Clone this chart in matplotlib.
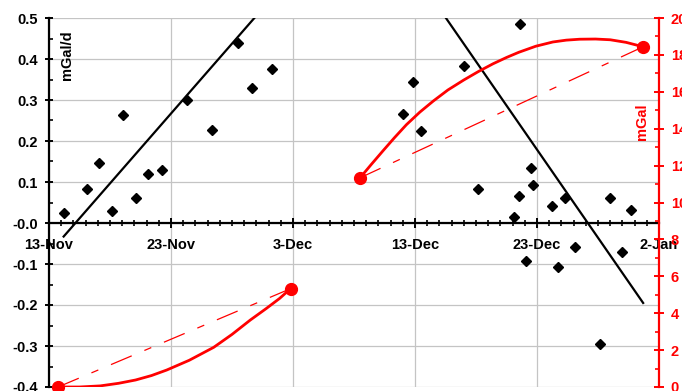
import numpy as np
import pandas as pd
import matplotlib
matplotlib.use('Agg')
import matplotlib.pyplot as plt
import matplotlib.dates as mdates
from matplotlib.ticker import MultipleLocator

plt.rcParams['font.family'] = ['Liberation Sans', 'DejaVu Sans']
plt.rcParams['font.weight'] = 'bold'
plt.rcParams['font.size'] = 10.5

start = pd.Timestamp('2008-11-13')

# daily drift readings (days after 13-Nov, mGal/d)
rate_days = [1.2, 3.1, 4.1, 5.2, 6.1, 7.1, 8.1, 9.3, 11.3, 13.4, 15.5, 16.6, 18.3,
             29.0, 29.8, 30.5, 34.0, 35.2, 38.1, 38.5, 38.6, 39.1, 39.5, 39.7,
             41.2, 41.7, 42.3, 43.1, 45.2, 46.0, 47.0, 47.7]
rate_vals = [0.024, 0.084, 0.146, 0.029, 0.263, 0.062, 0.120, 0.130, 0.300, 0.228, 0.440, 0.330, 0.376,
             0.267, 0.344, 0.224, 0.384, 0.084, 0.015, 0.067, 0.486, -0.093, 0.134, 0.092,
             0.042, -0.107, 0.062, -0.059, -0.294, 0.062, -0.070, 0.031]

# trend lines through the readings
trend1_days = [1.2, 18.3]
trend1_vals = [-0.033, 0.55]
trend2_days = [29.0, 48.7]
trend2_vals = [0.652, -0.195]

# accumulated drift (mGal)
drift1_days = [0.74, 2.5, 4.2, 5.7, 7.1, 8.4, 9.65, 11.5, 13.5, 15.0, 16.5, 17.8, 18.9, 19.8]
drift1_vals = [0.0, 0.0, 0.06, 0.2, 0.38, 0.62, 0.92, 1.45, 2.15, 2.85, 3.63, 4.25, 4.8, 5.33]
drift2_days = [25.5, 26.4, 27.4, 28.3, 29.3, 30.4, 31.5, 32.7, 34.0, 35.2, 36.4, 37.5,
               38.5, 39.9, 41.3, 42.4, 43.5, 44.8, 46.0, 47.3, 48.7]
drift2_vals = [11.34, 12.05, 12.82, 13.5, 14.22, 14.9, 15.5, 16.1, 16.64, 17.1, 17.52, 17.86,
               18.14, 18.47, 18.7, 18.8, 18.85, 18.86, 18.82, 18.68, 18.44]

tick_days = [0, 10, 20, 30, 40, 50]
tick_labels = ['13-Nov', '23-Nov', '3-Dec', '13-Dec', '23-Dec', '2-Jan']


def to_dates(days):
    return start + pd.to_timedelta(days, unit='D')


fig = plt.figure(figsize=(6.82, 3.91), dpi=100)
ax = fig.add_axes([49 / 682, 4 / 391, 610 / 682, 369 / 391])
ax2 = ax.twinx()

# left axis: rate
ax.plot(to_dates(rate_days), rate_vals, 'D', color='black', ms=5.5, zorder=3)
ax.plot(to_dates(trend1_days), trend1_vals, '-', color='black', lw=1.6)
ax.plot(to_dates(trend2_days), trend2_vals, '-', color='black', lw=1.6)

ax.set_xlim(to_dates([0])[0], to_dates([50])[0])
ax.set_ylim(-0.4, 0.5)
ax.set_yticks(np.arange(-0.4, 0.51, 0.1))
ax.yaxis.set_major_formatter(plt.FormatStrFormatter('%.1f'))
ax.yaxis.set_minor_locator(MultipleLocator(0.05))
ax.set_xticks(to_dates(tick_days))
ax.set_xticklabels(tick_labels)
ax.xaxis.set_minor_locator(mdates.DayLocator())

ax.grid(True, which='major', color='#c4c4c4', lw=0.9)
for s in ['top', 'right']:
    ax.spines[s].set_visible(False)
ax.spines['bottom'].set_position(('data', 0))
ax.spines['bottom'].set_linewidth(1.6)
ax.spines['left'].set_linewidth(1.6)
ax.tick_params(axis='x', which='major', direction='inout', length=7, width=1.4, pad=7)
ax.tick_params(axis='x', which='minor', direction='inout', length=4, width=1.2)
ax.tick_params(axis='y', which='major', direction='inout', length=6, width=1.4, pad=5)
ax.tick_params(axis='y', which='minor', direction='in', length=3, width=1.2)
ax.text(0.03, 0.9, 'mGal/d', transform=ax.transAxes, rotation=90,
        ha='center', va='center', fontweight='bold')

# right axis: accumulated drift
ax2.plot(to_dates(drift1_days), drift1_vals, '-', color='red', lw=2, solid_joinstyle='round')
ax2.plot(to_dates(drift2_days), drift2_vals, '-', color='red', lw=2, solid_joinstyle='round')
ax2.plot(to_dates([drift1_days[0], drift1_days[-1]]), [drift1_vals[0], drift1_vals[-1]],
         color='red', lw=0.9, dashes=(18, 11, 6, 11))
ax2.plot(to_dates([drift2_days[0], drift2_days[-1]]), [drift2_vals[0], drift2_vals[-1]],
         color='red', lw=0.9, dashes=(18, 11, 6, 11))
ax2.plot(to_dates([drift1_days[0], drift1_days[-1]]), [drift1_vals[0], drift1_vals[-1]],
         'o', color='red', ms=8.5, clip_on=False)
ax2.plot(to_dates([drift2_days[0], drift2_days[-1]]), [drift2_vals[0], drift2_vals[-1]],
         'o', color='red', ms=8.5, clip_on=False)

ax2.set_ylim(0, 20)
ax2.set_yticks(np.arange(0, 21, 2))
ax2.yaxis.set_minor_locator(MultipleLocator(1))
for s in ['top', 'left', 'bottom']:
    ax2.spines[s].set_visible(False)
ax2.spines['right'].set_color('red')
ax2.spines['right'].set_linewidth(1.6)
ax2.tick_params(axis='y', which='major', direction='inout', length=7, width=1.4,
                colors='red', pad=5)
ax2.tick_params(axis='y', which='minor', direction='in', length=3, width=1.2, colors='red')
ax2.text(0.972, 0.718, 'mGal', transform=ax2.transAxes, rotation=90,
         ha='center', va='center', color='red', fontweight='bold')

plt.savefig('out.png', dpi=100)
